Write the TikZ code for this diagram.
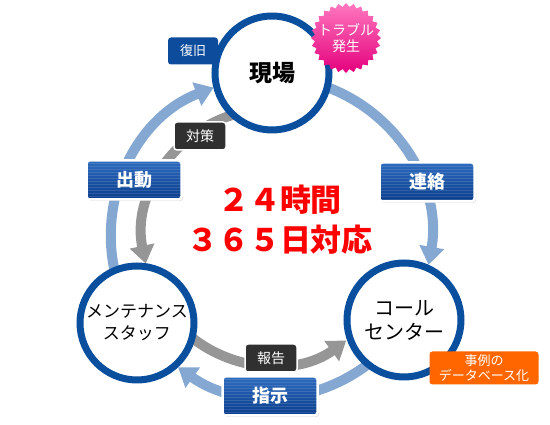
\documentclass[tikz,border=0pt]{standalone}
\usepackage{fontspec}
\usetikzlibrary{arrows.meta, shapes.geometric, positioning, calc, shadows, patterns}
\newfontfamily\jp{Noto Sans CJK JP}
\definecolor{ringblue}{RGB}{10,78,158}
\definecolor{lightarc}{RGB}{132,168,210}
\definecolor{grayarc}{RGB}{150,150,150}
\definecolor{boxtop}{RGB}{46,107,190}
\definecolor{boxbot}{RGB}{10,62,140}
\definecolor{darkbox}{RGB}{48,48,48}
\definecolor{tagblue}{RGB}{13,76,156}
\definecolor{caseorange}{RGB}{255,102,0}
\definecolor{pinktop}{RGB}{255,120,190}
\definecolor{pinkbot}{RGB}{228,0,125}

\begin{document}
\begin{tikzpicture}[x=1pt, y=1pt, font=\jp,
    place/.style={circle, draw=ringblue, line width=7pt, fill=white, minimum size=114pt, inner sep=0pt, align=center},
    bluearc/.style={lightarc, line width=10pt, -{Triangle[width=24pt,length=18pt]}},
    grayarrow/.style={grayarc, line width=10pt, -{Triangle[width=24pt,length=18pt]}},
    actbox/.style={rectangle, rounded corners=3pt, draw=white, line width=2.5pt, top color=boxtop, bottom color=boxbot,
        minimum width=95pt, minimum height=39pt, text=white, font=\jp\bfseries\fontsize{18}{18}\selectfont,
        drop shadow={opacity=0.3, shadow xshift=1.5pt, shadow yshift=-1.5pt},
        postaction={pattern=horizontal lines, pattern color=white, opacity=0.12}},
    tagbox/.style={rectangle, rounded corners=3pt, fill=darkbox, draw=white, line width=1.5pt, text=white,
        minimum width=52pt, minimum height=28pt, font=\jp\fontsize{14}{14}\selectfont},
    bigtext/.style={align=center, font=\jp\bfseries\fontsize{31}{40}\selectfont}]
\useasboundingbox (0,0) rectangle (550,425);
\coordinate (ring) at (271,188);

% outer cycle
\draw[bluearc] ([shift={(75:160)}]ring) arc[start angle=75, end angle=-10, radius=160];
\draw[bluearc] ([shift={(-50:160)}]ring) arc[start angle=-50, end angle=-125.5, radius=160];
\draw[bluearc] ([shift={(200:160)}]ring) arc[start angle=200, end angle=111, radius=160];
% inner cycle
\draw[grayarrow] ([shift={(105:128)}]ring) arc[start angle=105, end angle=192, radius=128];
\draw[grayarrow] ([shift={(228:128)}]ring) arc[start angle=228, end angle=306, radius=128];

\node[place, font=\jp\bfseries\fontsize{23}{26}\selectfont] (genba) at (272,352) {現場};
\node[place, font=\jp\fontsize{20}{24}\selectfont] (callc) at (404,105) {コール\\センター};
\node[place, font=\jp\fontsize{17}{22}\selectfont] (staff) at (137,102) {メンテナンス\\スタッフ};

\node[star, star points=28, star point ratio=1.12, minimum size=70pt, inner sep=0pt,
    top color=pinktop, bottom color=pinkbot] (burst) at (346,387) {};
\node[text=white, align=center, font=\jp\fontsize{14}{16}\selectfont] at (burst) {トラブル\\発生};

\node[rectangle, rounded corners=3pt, fill=tagblue, text=white, minimum width=50pt, minimum height=27pt,
    font=\jp\fontsize{13}{13}\selectfont] (fukkyu) at (193,374) {復旧};

\node[actbox] (shutsudo) at (134,245) {出動};
\node[actbox] (renraku) at (427,243) {連絡};
\node[actbox] (shiji) at (270,29) {指示};
\node[tagbox] (taisaku) at (200,289) {対策};
\node[tagbox] (houkoku) at (271,67) {報告};

\node[rectangle, rounded corners=3pt, fill=caseorange, text=white, minimum width=109pt, minimum height=33pt,
    align=center, inner sep=1pt, font=\jp\fontsize{13}{15}\selectfont] (jirei) at (484,57) {事例の\\データベース化};

\node[bigtext, text=red] (slogan) at (280,205) {２４時間\\３６５日対応};
\end{tikzpicture}
\end{document}
